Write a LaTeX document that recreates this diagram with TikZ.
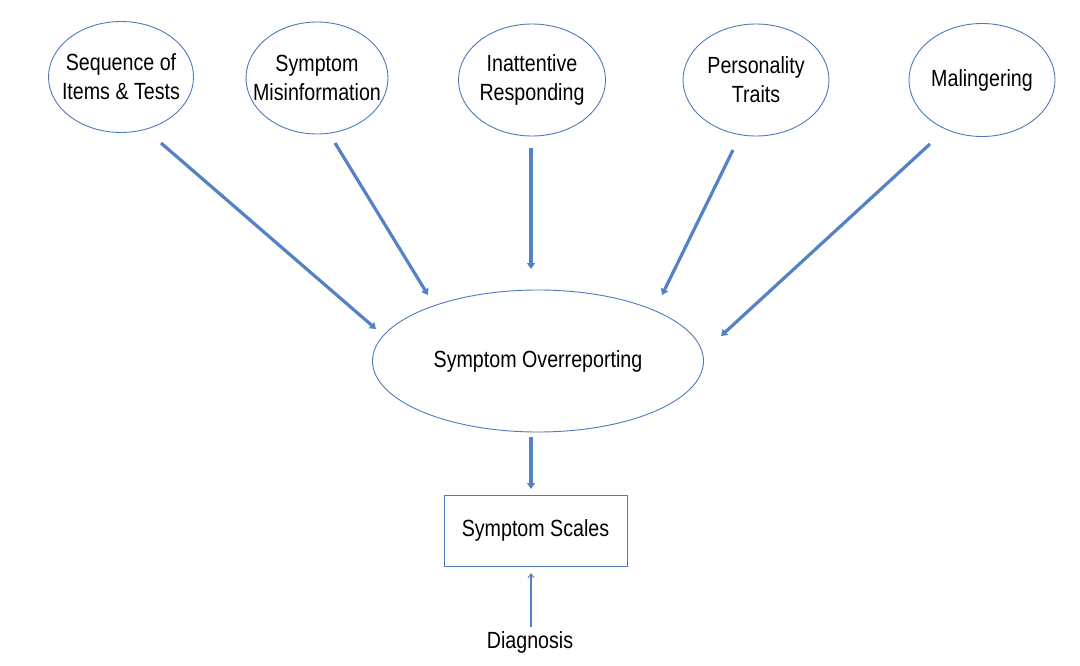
\documentclass[tikz,border=0pt]{standalone}
\usepackage{fontspec}
\setmainfont{Liberation Sans}[FakeStretch=0.84]
\usetikzlibrary{shapes.geometric,arrows.meta}
\definecolor{edgeblue}{RGB}{84,130,196}
\definecolor{lineblue}{RGB}{78,122,186}
\newcommand{\zb}[1]{\makebox[0pt]{#1}}
\begin{document}
\begin{tikzpicture}[x=1pt,y=-1pt,
  oval/.style={ellipse,draw=lineblue,line width=0.9pt,inner sep=0pt,align=center,font=\fontsize{23.4}{29}\selectfont},
  boxnode/.style={rectangle,draw=lineblue,line width=0.9pt,inner sep=0pt,font=\fontsize{23.4}{29}\selectfont},
  flow/.style={draw=edgeblue,line width=3.2pt,-{Triangle[length=6pt,width=8pt]}},
  backflow/.style={draw=edgeblue,line width=2.6pt,-{Straight Barb[length=4pt,width=6pt,line width=1pt]}}]
\useasboundingbox (0,0) rectangle (1080,666);
\node[oval,minimum width=145,minimum height=111] (seq) at (121,77) {\zb{Sequence of}\\\zb{Items \& Tests}};
\node[oval,minimum width=142,minimum height=112] (mis) at (317,78) {\zb{Symptom}\\\zb{Misinformation}};
\node[oval,minimum width=147,minimum height=112] (ina) at (532,80) {\zb{Inattentive}\\\zb{Responding}};
\node[oval,minimum width=146,minimum height=112] (per) at (756,80) {\zb{Personality}\\\zb{Traits}};
\node[oval,minimum width=146,minimum height=113] (mal) at (982,80) {\zb{Malingering}};
\node[oval,minimum width=331,minimum height=142] (ovr) at (538,361) {\zb{Symptom Overreporting}};
\node[boxnode,minimum width=183,minimum height=71] (scl) at (535.5,530.5) {Symptom Scales};
\node[font=\fontsize{23.4}{29}\selectfont,inner sep=0pt] (dia) at (530,642) {Diagnosis};
\coordinate (s1) at (161,143); \coordinate (e1) at (376,329);
\coordinate (s2) at (335,143); \coordinate (e2) at (428,295);
\coordinate (s3) at (531,148); \coordinate (e3) at (531,269);
\coordinate (s4) at (733,150); \coordinate (e4) at (662,295);
\coordinate (s5) at (930,144); \coordinate (e5) at (721,336);
\coordinate (s6) at (531,437); \coordinate (e6) at (531,489);
\coordinate (s7) at (531,627); \coordinate (e7) at (531,573);
\draw[flow] (s1) -- (e1);
\draw[flow] (s2) -- (e2);
\draw[flow] (s3) -- (e3);
\draw[flow] (s4) -- (e4);
\draw[flow] (s5) -- (e5);
\draw[flow] (s6) -- (e6);
\draw[backflow] (s7) -- (e7);
\end{tikzpicture}
\end{document}
